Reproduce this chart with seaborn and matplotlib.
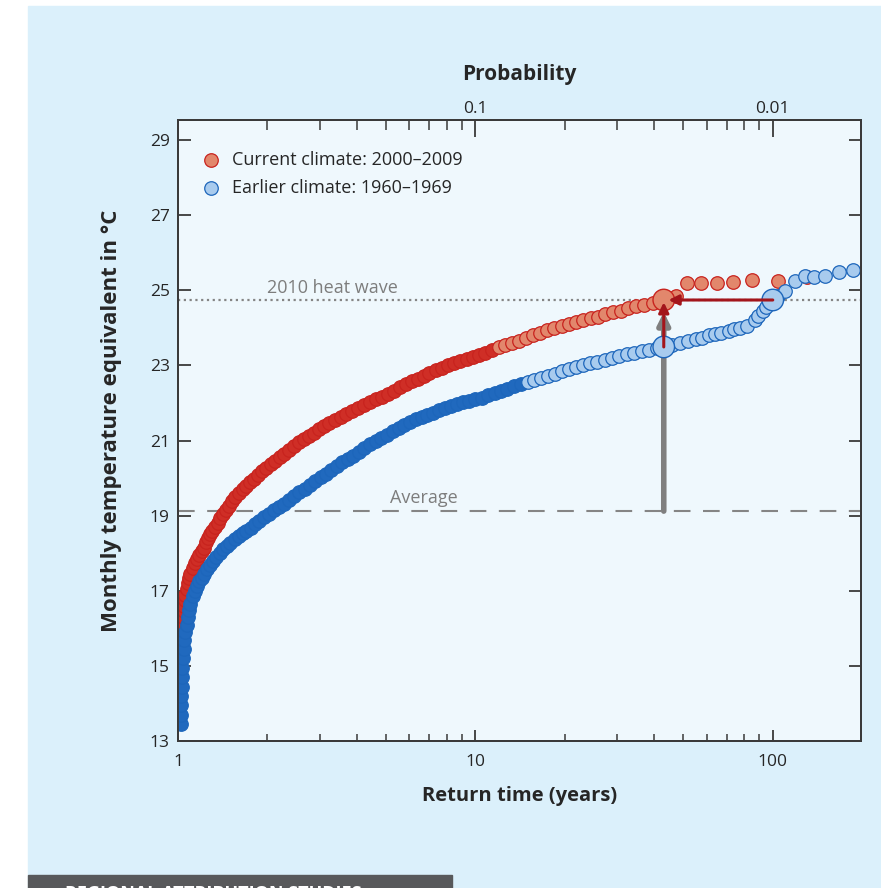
import numpy as np
import pandas as pd
import matplotlib
matplotlib.use("Agg")
from matplotlib import pyplot as plt
from matplotlib.patches import Rectangle
from matplotlib.ticker import LogLocator, NullFormatter, FixedLocator
import seaborn as sns

# Current climate 2000-2009: return time (years) and monthly temperature (degC)
current_years = [1.03, 1.035, 1.04, 1.045, 1.05, 1.055, 1.06, 1.07, 1.08, 1.09,
                 1.10, 1.12, 1.14, 1.16, 1.18, 1.20, 1.22, 1.24, 1.26, 1.28,
                 1.30, 1.33, 1.36, 1.39, 1.42, 1.45, 1.48, 1.52, 1.56, 1.60,
                 1.65, 1.70, 1.75, 1.80, 1.86, 1.92, 1.98, 2.05, 2.12, 2.20,
                 2.28, 2.36, 2.45, 2.55, 2.65, 2.75, 2.86, 2.98, 3.10, 3.23,
                 3.37, 3.52, 3.68, 3.85, 4.03, 4.22, 4.42, 4.63, 4.85, 5.08,
                 5.32, 5.57, 5.83, 6.10, 6.40, 6.70, 7.00, 7.35, 7.70, 8.10,
                 8.50, 8.90, 9.35, 9.80, 10.3, 10.8, 11.4, 12.0, 12.6, 13.3,
                 14.0, 14.8, 15.6, 16.5, 17.4, 18.4, 19.5, 20.6, 21.8, 23.0,
                 24.4, 25.8, 27.3, 29.0, 30.8, 32.7, 34.8, 37.0, 39.5, 47.4,
                 51.4, 57.3, 64.8, 73.4, 85.0, 104.0, 130.0]
current_temp = [15.95, 16.1, 16.3, 16.45, 16.6, 16.75, 16.9, 17.05, 17.2, 17.35,
                17.45, 17.6, 17.75, 17.85, 17.95, 18.05, 18.15, 18.3, 18.4, 18.5,
                18.6, 18.7, 18.8, 18.95, 19.05, 19.15, 19.25, 19.4, 19.5, 19.6,
                19.7, 19.8, 19.9, 19.98, 20.08, 20.18, 20.28, 20.38, 20.45, 20.55,
                20.65, 20.75, 20.85, 20.95, 21.05, 21.12, 21.2, 21.3, 21.38, 21.47,
                21.55, 21.62, 21.7, 21.78, 21.86, 21.95, 22.02, 22.1, 22.17, 22.25,
                22.33, 22.42, 22.5, 22.58, 22.65, 22.72, 22.8, 22.87, 22.93, 23.0,
                23.07, 23.12, 23.18, 23.22, 23.28, 23.34, 23.42, 23.48, 23.54, 23.6,
                23.66, 23.73, 23.8, 23.87, 23.94, 24.0, 24.06, 24.1, 24.16, 24.2,
                24.25, 24.3, 24.36, 24.42, 24.46, 24.52, 24.58, 24.62, 24.66, 24.85,
                25.2, 25.18, 25.2, 25.22, 25.27, 25.25, 25.35]

# Earlier climate 1960-1969
earlier_years = [1.02, 1.02, 1.025, 1.025, 1.03, 1.03, 1.035, 1.04, 1.045, 1.05,
                 1.06, 1.07, 1.08, 1.09, 1.10, 1.12, 1.14, 1.16, 1.18, 1.20,
                 1.22, 1.25, 1.28, 1.31, 1.34, 1.38, 1.42, 1.46, 1.50, 1.55,
                 1.60, 1.65, 1.70, 1.76, 1.82, 1.88, 1.95, 2.02, 2.10, 2.18,
                 2.27, 2.36, 2.46, 2.56, 2.67, 2.78, 2.90, 3.02, 3.15, 3.28,
                 3.42, 3.57, 3.72, 3.88, 4.05, 4.23, 4.42, 4.62, 4.83, 5.05,
                 5.28, 5.52, 5.77, 6.03, 6.30, 6.60, 6.90, 7.20, 7.55, 7.90,
                 8.30, 8.70, 9.10, 9.55, 10.0, 10.5, 11.0, 11.6, 12.2, 12.8,
                 13.5, 14.2, 15.0, 15.8, 16.6, 17.5, 18.5, 19.5, 20.6, 21.8,
                 23.0, 24.3, 25.7, 27.2, 28.8, 30.5, 32.3, 34.2, 36.2, 38.4,
                 40.7, 46.0, 48.6, 52.0, 55.0, 58.0, 61.0, 64.0, 67.0, 71.0,
                 74.0, 77.5, 82.0, 86.9, 89.0, 92.4, 95.0, 104.0, 110.0, 118.6,
                 128.0, 138.0, 149.5, 166.7, 185.8]
earlier_temp = [13.45, 13.7, 13.95, 14.2, 14.45, 14.7, 14.95, 15.2, 15.45, 15.7,
                15.9, 16.1, 16.3, 16.5, 16.65, 16.85, 17.0, 17.12, 17.25, 17.35,
                17.45, 17.58, 17.68, 17.8, 17.9, 18.0, 18.1, 18.2, 18.28, 18.37,
                18.45, 18.53, 18.6, 18.68, 18.78, 18.87, 18.96, 19.05, 19.14, 19.22,
                19.32, 19.42, 19.52, 19.62, 19.72, 19.82, 19.92, 20.02, 20.12, 20.22,
                20.32, 20.42, 20.5, 20.6, 20.7, 20.8, 20.9, 20.98, 21.06, 21.15,
                21.25, 21.33, 21.42, 21.5, 21.56, 21.62, 21.68, 21.74, 21.8, 21.86,
                21.92, 21.97, 22.02, 22.06, 22.1, 22.14, 22.2, 22.26, 22.32, 22.38,
                22.44, 22.5, 22.56, 22.62, 22.67, 22.72, 22.78, 22.84, 22.9, 22.95,
                23.0, 23.06, 23.1, 23.15, 23.2, 23.25, 23.3, 23.33, 23.37, 23.4,
                23.45, 23.55, 23.6, 23.65, 23.7, 23.74, 23.8, 23.84, 23.87, 23.92,
                23.97, 24.0, 24.05, 24.2, 24.32, 24.45, 24.55, 24.85, 24.98, 25.25,
                25.37, 25.35, 25.38, 25.49, 25.54]

# highlighted points: 2010 heat wave level in each climate
marked_years = [43.0, 43.0, 100.0]
marked_temp = [23.49, 24.74, 24.74]
marked_climate = ["earlier", "current", "earlier"]

heat_wave = 24.74
average = 19.12

current = pd.DataFrame({"years": current_years, "temp": current_temp})
earlier = pd.DataFrame({"years": earlier_years, "temp": earlier_temp})
marked = pd.DataFrame({"years": marked_years, "temp": marked_temp, "climate": marked_climate})

sns.set_style("ticks")
plt.rcParams["font.family"] = ["Open Sans", "DejaVu Sans"]

red_edge, red_dense, red_face = "#c8231e", "#cf2e26", "#e2876c"
blue_edge, blue_dense, blue_face = "#1d66bb", "#2069be", "#a8cbee"
msize = 95

fig = plt.figure(figsize=(8.81, 8.88), dpi=100)
fig.patches.append(Rectangle((28 / 881, 0), 1, 1 - 6 / 888, transform=fig.transFigure,
                             color="#dbf0fb", zorder=-10))
fig.patches.append(Rectangle((28 / 881, 0), 424 / 881, 13 / 888, transform=fig.transFigure,
                             color="#58595b", zorder=-5))
fig.text(65 / 881, 3 / 888, "REGIONAL ATTRIBUTION STUDIES", color="white", fontsize=13,
         fontweight="bold", va="top")

ax = fig.add_axes([0.2020, 0.1655, 0.7753, 0.6993])
ax.set_facecolor("#eff8fd")

# current climate (red), dense part drawn darker
cur_dense = current["years"] < 12
sns.scatterplot(data=current[cur_dense], x="years", y="temp", ax=ax, s=msize, color=red_dense,
                edgecolor=red_edge, linewidth=0.9, zorder=3)
h_cur = sns.scatterplot(data=current[~cur_dense], x="years", y="temp", ax=ax, s=msize,
                        color=red_face, edgecolor=red_edge, linewidth=0.9, zorder=3).collections[-1]

ear_dense = earlier["years"] < 15
sns.scatterplot(data=earlier[ear_dense], x="years", y="temp", ax=ax, s=msize, color=blue_dense,
                edgecolor=blue_edge, linewidth=0.9, zorder=4)
h_ear = sns.scatterplot(data=earlier[~ear_dense], x="years", y="temp", ax=ax, s=msize,
                        color=blue_face, edgecolor=blue_edge, linewidth=0.9, zorder=4).collections[-1]

ax.set_xscale("log")
ax.set_xlim(1, 198)
ax.set_ylim(13, 29.53)

# reference lines
ax.axhline(heat_wave, color="#858585", lw=1.6, ls=(0, (1, 1.6)), zorder=2)
ax.axhline(average, color="#858585", lw=1.5, ls=(0, (8, 6)), zorder=2)
ax.text(2.0, heat_wave + 0.08, "2010 heat wave", color="#7d7d7d", fontsize=13, va="bottom")
ax.text(5.15, average + 0.1, "Average", color="#7d7d7d", fontsize=13, va="bottom")

# gray arrow from the average up to the heat wave
ax.annotate("", xy=(43, 24.42), xytext=(43, average),
            arrowprops=dict(arrowstyle="-|>,head_width=0.35,head_length=0.7", color="#7f7f7f",
                            lw=4.0, shrinkA=0, shrinkB=0), zorder=5)

# big highlighted circles
sns.scatterplot(data=marked, x="years", y="temp", hue="climate",
                palette={"earlier": blue_face, "current": red_face}, ax=ax, s=240,
                edgecolor=[blue_edge, red_edge, blue_edge], linewidth=1.0, zorder=6, legend=False)

# red arrows
ax.annotate("", xy=(43, 24.68), xytext=(43, 23.49),
            arrowprops=dict(arrowstyle="-|>,head_width=0.3,head_length=0.6", color="#a3151b",
                            lw=2.2, shrinkA=0, shrinkB=0), zorder=7)
ax.annotate("", xy=(44.6, heat_wave), xytext=(100, heat_wave),
            arrowprops=dict(arrowstyle="-|>,head_width=0.3,head_length=0.6", color="#a3151b",
                            lw=2.2, shrinkA=0, shrinkB=0), zorder=7)

# axes styling
for sp in ax.spines.values():
    sp.set_color("#3a3a3a")
    sp.set_linewidth(1.4)
ax.set_yticks(range(13, 30, 2))
ax.set_xticks([1, 10, 100])
ax.set_xticklabels(["1", "10", "100"])
ax.xaxis.set_minor_locator(LogLocator(base=10, subs=range(2, 10)))
ax.xaxis.set_minor_formatter(NullFormatter())
ax.tick_params(axis="y", which="both", direction="in", left=True, right=True, length=9,
               width=1.3, color="#3a3a3a", labelsize=12.5, pad=6)
ax.tick_params(axis="x", which="major", direction="in", top=False, length=8, width=1.3,
               color="#3a3a3a", labelsize=12.5, pad=9)
ax.tick_params(axis="x", which="minor", direction="in", top=False, length=5, width=1.1,
               color="#3a3a3a")
ax.set_xlabel("Return time (years)", fontsize=14.5, fontweight="bold", labelpad=12)
ax.set_ylabel("Monthly temperature equivalent in °C", fontsize=16, fontweight="bold")
ax.yaxis.set_label_coords(-0.082, 0.515)

# probability on top
ax2 = ax.twiny()
ax2.set_xscale("log")
ax2.set_xlim(ax.get_xlim())
ax2.xaxis.set_major_locator(FixedLocator([10, 100]))
ax2.set_xticklabels(["0.1", "0.01"])
ax2.xaxis.set_minor_locator(LogLocator(base=10, subs=range(2, 10)))
ax2.xaxis.set_minor_formatter(NullFormatter())
ax2.tick_params(axis="x", which="major", direction="in", length=12, width=1.3,
                color="#3a3a3a", labelsize=12.5, pad=2)
ax2.tick_params(axis="x", which="minor", direction="in", length=7, width=1.1, color="#3a3a3a")
ax2.set_xlabel("Probability", fontsize=15, fontweight="bold", labelpad=15)
for sp in ax2.spines.values():
    sp.set_color("#3a3a3a")
    sp.set_linewidth(1.4)

ax.legend([h_cur, h_ear], ["Current climate: 2000–2009", "Earlier climate: 1960–1969"],
          loc="upper left", bbox_to_anchor=(0.012, 0.962), frameon=False, fontsize=13,
          handletextpad=0.15, labelspacing=0.55, borderaxespad=0, scatterpoints=1)

fig.savefig("out.png", dpi=100)
